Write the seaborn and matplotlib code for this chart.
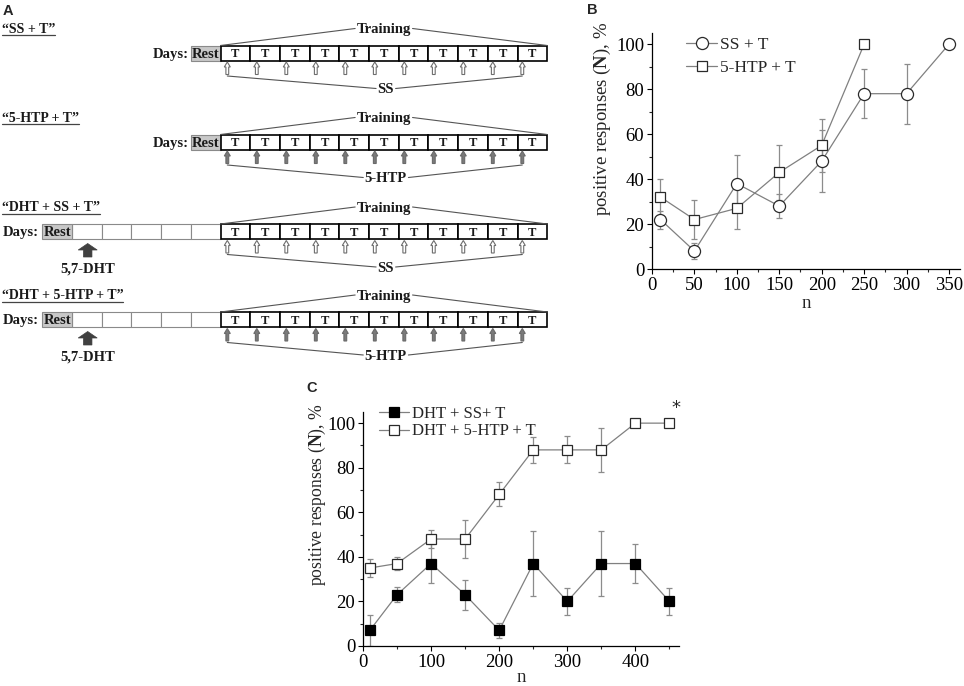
import numpy as np
import pandas as pd
import matplotlib
matplotlib.use("Agg")
import matplotlib.pyplot as plt
import seaborn as sns
from matplotlib.patches import Rectangle, Polygon
from matplotlib.ticker import MultipleLocator

# ---------------- data ----------------
# Panel B
b_x_ss = [10, 50, 100, 150, 200, 250, 300, 350]
b_y_ss = [22, 8, 38, 28, 48, 78, 78, 100]
b_e_ss = [4, 3.5, 12.5, 5.3, 13.8, 11, 13.3, 0]
b_x_htp = [10, 50, 100, 150, 200, 250]
b_y_htp = [32, 22, 27, 43, 55, 100]
b_e_htp = [8, 8.5, 9, 12.3, 11.7, 0]
b_labels = ["SS + T", "5-HTP + T"]

# Panel C
c_x = [10, 50, 100, 150, 200, 250, 300, 350, 400, 450]
c_y_ss = [7, 23, 37, 23, 7, 37, 20, 37, 37, 20]
c_e_ss = [6.8, 3.4, 8.8, 6.8, 3.2, 14.7, 6, 14.7, 8.9, 6]
c_y_htp = [35, 37, 48, 48, 68, 88, 88, 88, 100, 100]
c_e_htp = [4.2, 3.1, 4, 8.7, 5.4, 5.7, 6.1, 9.9, 0, 0]
c_labels = ["DHT + SS+ T", "DHT + 5-HTP + T"]

# Panel A (schema)
row_titles = ["\u201cSS + T\u201d", "\u201c5-HTP + T\u201d",
              "\u201cDHT + SS + T\u201d", "\u201cDHT + 5-HTP + T\u201d"]
row_drug = ["SS", "5-HTP", "SS", "5-HTP"]
row_dht = [False, False, True, True]
n_train = 11
n_pre_empty = 5

# ---------------- style ----------------
sns.set_theme(style="ticks")
plt.rcParams["font.family"] = ["Liberation Serif", "DejaVu Serif"]
plt.rcParams["mathtext.fontset"] = "custom"
plt.rcParams["mathtext.rm"] = "Liberation Serif"
plt.rcParams["mathtext.bf"] = "Liberation Serif:bold"
plt.rcParams["axes.linewidth"] = 0.9
plt.rcParams["xtick.major.size"] = 3.5
plt.rcParams["ytick.major.size"] = 3.5
plt.rcParams["xtick.minor.size"] = 2
plt.rcParams["ytick.minor.size"] = 2
plt.rcParams["xtick.major.width"] = 0.8
plt.rcParams["ytick.major.width"] = 0.8
plt.rcParams["xtick.minor.width"] = 0.8
plt.rcParams["ytick.minor.width"] = 0.8
plt.rcParams["xtick.direction"] = "out"
plt.rcParams["ytick.direction"] = "out"

W, H = 964, 686
fig = plt.figure(figsize=(W / 100, H / 100), dpi=100)

# background axes in pixel coordinates for schema & panel letters
axA = fig.add_axes([0, 0, 1, 1], zorder=0)
axA.set_xlim(0, W)
axA.set_ylim(H, 0)
axA.axis("off")

LINE_C = "#808080"
EDGE_C = "#2a2a2a"
ERR_C = "#8c8c8c"
FS = 13.5
YLAB = r"positive responses ($\mathbf{N}$), %"

def style_axes(ax, xmax, xmaj, xmin, xlpad, ylab_fs, ylab_xy):
    ax.set_xlim(0, xmax)
    ax.set_ylim(0, 105)
    ax.xaxis.set_major_locator(MultipleLocator(xmaj))
    ax.xaxis.set_minor_locator(MultipleLocator(xmin))
    ax.yaxis.set_major_locator(MultipleLocator(20))
    ax.yaxis.set_minor_locator(MultipleLocator(10))
    ax.tick_params(labelsize=FS, colors="black", pad=2)
    for s in ["top", "right"]:
        ax.spines[s].set_visible(False)
    for s in ["left", "bottom"]:
        ax.spines[s].set_color("black")
    ax.set_xlabel("n", fontsize=FS, labelpad=xlpad)
    ax.set_ylabel(YLAB, fontsize=ylab_fs)
    ax.yaxis.set_label_coords(*ylab_xy)
    ax.patch.set_alpha(0)

# ---------------- Panel B ----------------
axB = fig.add_axes([652 / W, 1 - 269 / H, 308 / W, 236 / H], zorder=2)
axB.errorbar(b_x_ss, b_y_ss, yerr=b_e_ss, fmt="none", ecolor=ERR_C,
             elinewidth=0.9, capsize=2.5, capthick=0.9, zorder=1)
axB.errorbar(b_x_htp, b_y_htp, yerr=b_e_htp, fmt="none", ecolor=ERR_C,
             elinewidth=0.9, capsize=2.5, capthick=0.9, zorder=1)
sns.lineplot(x=b_x_ss, y=b_y_ss, ax=axB, color=LINE_C, lw=0.9, marker="o",
             markersize=8.7, markerfacecolor="white", markeredgecolor=EDGE_C,
             markeredgewidth=0.9, label=b_labels[0], zorder=3)
sns.lineplot(x=b_x_htp, y=b_y_htp, ax=axB, color=LINE_C, lw=0.9, marker="s",
             markersize=7.8, markerfacecolor="white", markeredgecolor=EDGE_C,
             markeredgewidth=0.9, label=b_labels[1], zorder=3)
style_axes(axB, 363, 50, 25, 1, 13.5, (-0.127, 0.636))
axB.legend(loc="upper left", bbox_to_anchor=(0.11, 0.985), frameon=False,
           fontsize=12.5, handlelength=1.8, handletextpad=0.15, borderpad=0,
           labelspacing=0.42, borderaxespad=0)

# ---------------- Panel C ----------------
axC = fig.add_axes([363 / W, 1 - 646 / H, 316 / W, 234 / H], zorder=2)
axC.errorbar(c_x, c_y_ss, yerr=c_e_ss, fmt="none", ecolor=ERR_C,
             elinewidth=0.9, capsize=2.5, capthick=0.9, zorder=1)
axC.errorbar(c_x, c_y_htp, yerr=c_e_htp, fmt="none", ecolor=ERR_C,
             elinewidth=0.9, capsize=2.5, capthick=0.9, zorder=1)
sns.lineplot(x=c_x, y=c_y_ss, ax=axC, color=LINE_C, lw=0.9, marker="s",
             markersize=7.6, markerfacecolor="black", markeredgecolor="black",
             markeredgewidth=0.9, label=c_labels[0], zorder=3)
sns.lineplot(x=c_x, y=c_y_htp, ax=axC, color=LINE_C, lw=0.9, marker="s",
             markersize=7.6, markerfacecolor="white", markeredgecolor=EDGE_C,
             markeredgewidth=0.9, label=c_labels[1], zorder=3)
style_axes(axC, 464, 100, 50, -1, 12.7, (-0.112, 0.645))
axC.legend(loc="upper left", bbox_to_anchor=(0.05, 1.025), frameon=False,
           fontsize=12, handlelength=1.8, handletextpad=0.2, borderpad=0,
           labelspacing=0.08, borderaxespad=0)
axC.text(459, 107, "*", fontsize=13, ha="center", va="center",
         family="DejaVu Sans", clip_on=False)

# ---------------- Panel letters ----------------
for lab, (px, py) in zip(["A", "B", "C"], [(8, 11), (592, 10), (312, 388)]):
    axA.text(px, py, lab, fontsize=10.5, fontweight="bold",
             family="Liberation Sans", ha="center", va="center")

# ---------------- Panel A schema ----------------
renderer = fig.canvas.get_renderer()
inv = axA.transData.inverted()

def text_extent(t):
    bb = t.get_window_extent(renderer=renderer)
    (x0, y0), (x1, y1) = inv.transform([(bb.x0, bb.y0), (bb.x1, bb.y1)])
    return min(x0, x1), max(x0, x1)

def up_arrow(xc, ytip, length, hw, hl, sw, fc, ec, lw):
    pts = [(xc, ytip), (xc + hw / 2, ytip + hl), (xc + sw / 2, ytip + hl),
           (xc + sw / 2, ytip + length), (xc - sw / 2, ytip + length),
           (xc - sw / 2, ytip + hl), (xc - hw / 2, ytip + hl)]
    axA.add_patch(Polygon(pts, closed=True, fc=fc, ec=ec, lw=lw, zorder=3))

box_tops = [45.5, 134.5, 224, 312]
box_h = 15
box_w = 29.7
t_start = 220.5
t_end = t_start + n_train * box_w
arrow_x0 = 227.3
arrow_dx = 29.5
BR_C = "#555555"
SF = dict(family="Liberation Serif", fontweight="bold", color="#1a1a1a")

for i, top in enumerate(box_tops):
    yc = top + box_h / 2
    bot = top + box_h
    # title, underlined
    ty = top - 17
    t = axA.text(1.5, ty + 4.4, row_titles[i], fontsize=10, ha="left",
                 va="baseline", **SF)
    x0, x1 = text_extent(t)
    axA.plot([x0, x1], [ty + 6.5, ty + 6.5], color="#444444", lw=0.9)

    # Rest and empty pre-boxes
    if row_dht[i]:
        rest_x = t_start - (n_pre_empty + 1) * box_w
        for k in range(n_pre_empty):
            axA.add_patch(Rectangle((rest_x + (k + 1) * box_w, top), box_w, box_h,
                                    fc="white", ec="#8a8a8a", lw=0.8, zorder=2))
        axA.text(3, yc + 4.8, "Days:", fontsize=10.5, ha="left", va="baseline", **SF)
        # DHT arrow
        up_arrow(87.7, bot + 4.5, 13.5, 19, 6.5, 8.5, "#404040", "#404040", 0.5)
        axA.text(88, top + 44 + 4.8, "5,7-DHT", fontsize=10.5, ha="center",
                 va="baseline", **SF)
    else:
        rest_x = t_start - box_w
        axA.text(rest_x - 2, yc + 4.8, "Days:", fontsize=10.5, ha="right",
                 va="baseline", **SF)
    axA.add_patch(Rectangle((rest_x, top), box_w, box_h, fc="#c8c8c8",
                            ec="#8a8a8a", lw=0.8, zorder=2))
    axA.text(rest_x + box_w / 2, yc + 4.8, "Rest", fontsize=10.5, ha="center",
             va="baseline", **SF)

    # training boxes
    for k in range(n_train):
        bx = t_start + k * box_w
        axA.add_patch(Rectangle((bx, top), box_w, box_h, fc="white",
                                ec="black", lw=1.2, zorder=2))
        axA.text(bx + box_w / 2, yc + 4.2, "T", fontsize=9, ha="center",
                 va="baseline", **SF)

    # Training label with bracket
    tt = axA.text((t_start + t_end) / 2, top - 17 + 4.8, "Training",
                  fontsize=10.5, ha="center", va="baseline", **SF)
    x0, x1 = text_extent(tt)
    axA.plot([t_start, x0 - 1.5], [top, top - 17], color=BR_C, lw=0.8)
    axA.plot([x1 + 1.5, t_end], [top - 17, top], color=BR_C, lw=0.8)

    # drug arrows
    if row_drug[i] == "SS":
        fc, ec = "white", "#6e6e6e"
    else:
        fc, ec = "#7a7a7a", "#6a6a6a"
    xs = [arrow_x0 + k * arrow_dx for k in range(n_train)]
    for xa in xs:
        up_arrow(xa, bot + 1.5, 12.5, 6, 5, 2.8, fc, ec, 0.8)
    ly = top + 43
    dl = axA.text((t_start + t_end) / 2 + 2, ly + 4.8, row_drug[i], fontsize=10.5,
                  ha="center", va="baseline", **SF)
    x0, x1 = text_extent(dl)
    axA.plot([xs[0], x0 - 1.5], [bot + 15.5, ly], color=BR_C, lw=0.8)
    axA.plot([x1 + 1.5, xs[-1]], [ly, bot + 15.5], color=BR_C, lw=0.8)

fig.savefig("out.png", dpi=100)
